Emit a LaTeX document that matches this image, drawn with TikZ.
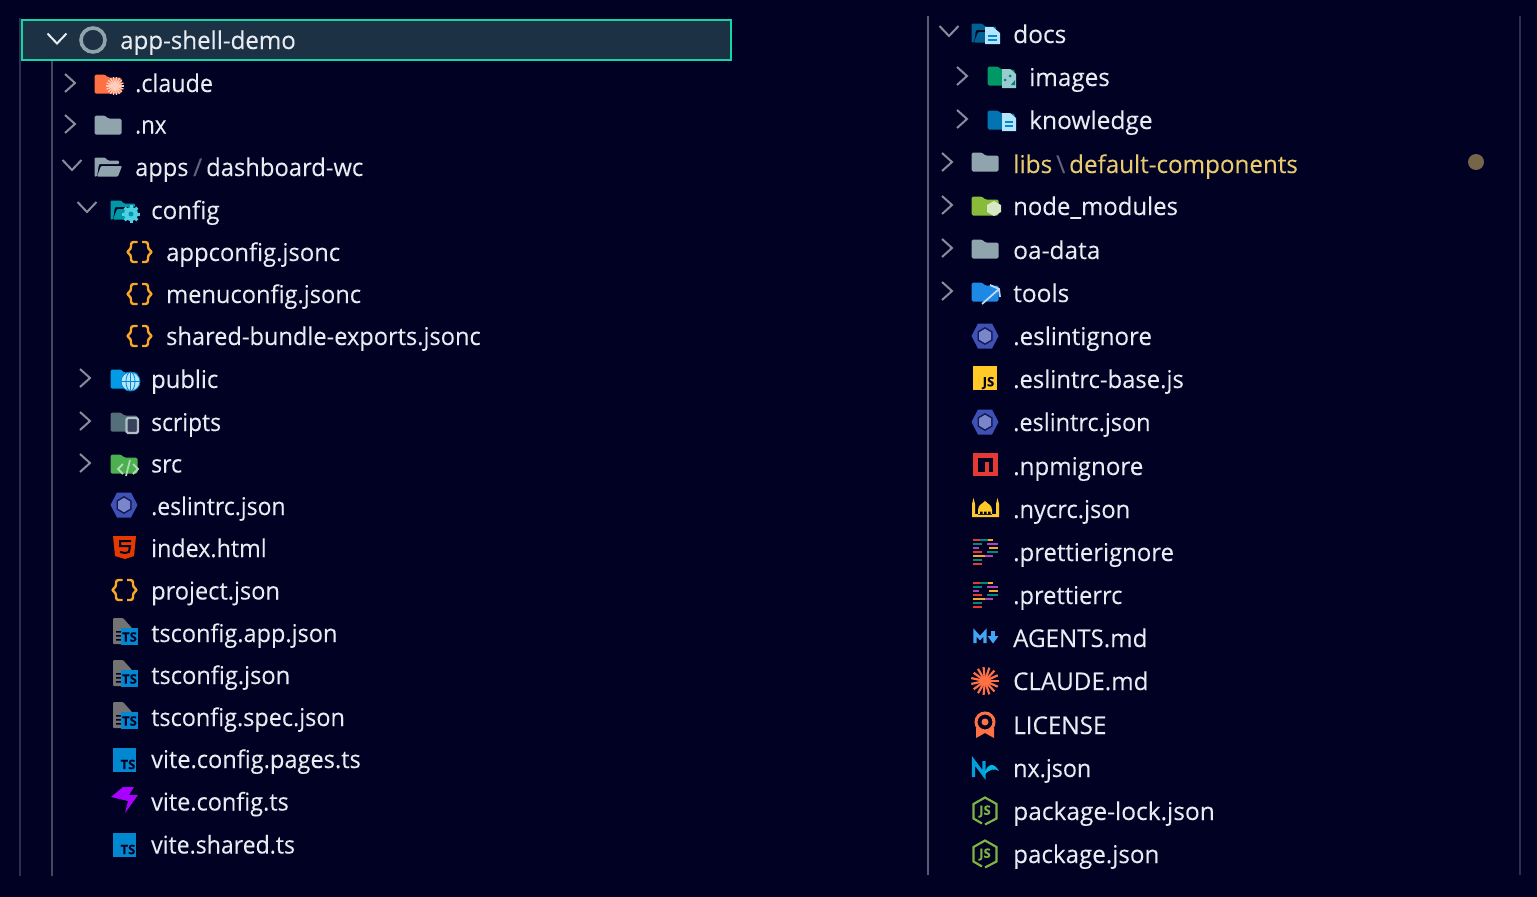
\documentclass[tikz,border=0pt]{standalone}
\usepackage{fontspec}
\setmainfont{Open Sans}[FakeBold=0.12]
\usetikzlibrary{positioning}
\definecolor{panelbg}{HTML}{010124}
\definecolor{rowbg}{HTML}{1C3244}
\definecolor{rowedge}{HTML}{12D6A4}
\definecolor{labeltext}{HTML}{E8ECF2}
\definecolor{gitlabel}{HTML}{E8CB6E}
\definecolor{chevcol}{HTML}{8A8A9C}
\definecolor{foldergrey}{HTML}{90A4AE}
\definecolor{tsblue}{HTML}{0288D1}
\definecolor{jsonorange}{HTML}{F9A825}
\definecolor{eslintblue}{HTML}{3F51B5}
\definecolor{eslintlight}{HTML}{7986CB}
\definecolor{nodegreen}{HTML}{7CB342}
\definecolor{claudered}{HTML}{FF7043}
\definecolor{paperlight}{HTML}{B3E5FC}
\definecolor{mdblue}{HTML}{42A5F5}
\definecolor{jsyellow}{HTML}{FFCA28}
\definecolor{npmred}{HTML}{E53935}
\definecolor{vitepurple}{HTML}{AA00FF}
\definecolor{publicblue}{HTML}{039BE5}
\definecolor{srcgreen}{HTML}{4CAF50}
\definecolor{toolsblue}{HTML}{1E88E5}
\definecolor{configteal}{HTML}{0097A7}
\definecolor{gearcyan}{HTML}{4DD0E1}
\definecolor{scriptsgrey}{HTML}{546E7A}
\tikzset{
  entry/.style={anchor=base west,inner sep=0pt,text=labeltext,font=\fontsize{24.5}{29}\selectfont},
  gitentry/.style={entry,text=gitlabel},
  squeeze/.style={xscale=#1,transform shape},
  sepmark/.style={anchor=base west,inner sep=0pt,text=chevcol!70!panelbg,font=\fontsize{24.5}{29}\selectfont},
  guide/.style={line width=1.4pt,draw=#1},
  pics/chevr/.style={code={\draw[chevcol,line width=2pt] (-5,-9) -- (5,0) -- (-5,9);}},
  pics/chevd/.style={code={\draw[#1,line width=2pt] (-9.5,-5) -- (0,5) -- (9.5,-5);}},
  pics/folder/.style={code={
    \fill[#1,rounded corners=1.5pt] (-13.5,9.5) -- (-13.5,-9.5) -- (-3,-9.5) -- (0,-6.5) -- (13.5,-6.5) -- (13.5,9.5) -- cycle;}},
  pics/openfolder/.style={code={
    \fill[#1,rounded corners=1pt] (-13.5,9.5) -- (-13.5,-9.5) -- (-3,-9.5) -- (0,-6.5) -- (11,-6.5) -- (11,-3) -- (-9,-3) -- (-11,9.5) -- cycle;
    \fill[#1,rounded corners=1pt] (-7,-1) -- (14,-1) -- (10,9.5) -- (-11,9.5) -- cycle;}},
  pics/braces/.style={code={
    \draw[jsonorange,line width=2.4pt,rounded corners=2.5pt] (-1.5,-10) -- (-8,-10) -- (-8,-3) -- (-12.5,0) -- (-8,3) -- (-8,10) -- (-1.5,10);
    \draw[jsonorange,line width=2.4pt,rounded corners=2.5pt] (3,-10) -- (9,-10) -- (9,-3) -- (13.5,0) -- (9,3) -- (9,10) -- (3,10);}},
  pics/eslint/.style={code={
    \fill[eslintblue] (-13.5,0) -- (-7,-12.5) -- (7,-12.5) -- (13.5,0) -- (7,12.5) -- (-7,12.5) -- cycle;
    \fill[panelbg!70!eslintblue] (0,-9) -- (7.5,-4.5) -- (7.5,4.5) -- (0,9) -- (-7.5,4.5) -- (-7.5,-4.5) -- cycle;
    \fill[eslintlight] (0,-7.2) -- (6,-3.6) -- (6,3.6) -- (0,7.2) -- (-6,3.6) -- (-6,-3.6) -- cycle;}},
  pics/tsfile/.style={code={
    \fill[tsblue] (-11.5,-12) rectangle (11.5,11.5);
    \node[text=panelbg,inner sep=0pt,font=\bfseries\fontsize{13}{13}\selectfont] (#1) at (3.5,4.5) {TS};}},
  pics/tsconfig/.style={code={
    \fill[black!55!white,rounded corners=1pt] (-12,10) -- (-12,-16) -- (-2,-16) -- (7,-6) -- (7,10) -- cycle;
    \fill[panelbg] (-9,-3) rectangle (-4,-1.5) (-9,1) rectangle (-4,2.5) (-9,5) rectangle (-4,6.5);
    \fill[tsblue] (-4,-6) rectangle (13,11);
    \node[text=panelbg,inner sep=0pt,font=\bfseries\fontsize{13}{13}\selectfont] (#1) at (4.5,3) {TS};}},
  pics/nodejs/.style={code={
    \draw[nodegreen,line width=2.2pt] (-3,12.5) -- (-11.5,7.5) -- (-11.5,-7) -- (0,-13.5) -- (11.5,-7) -- (11.5,7.5) -- (0,13.5);
    \node[text=nodegreen,inner sep=0pt,font=\bfseries\fontsize{13}{13}\selectfont] (#1) at (0,0.5) {JS};}},
  pics/prettier/.style={code={
    \foreach \xa/\xb/\ypos/\barcol in {-12/-5/-12/E53935,-5/3/-12/00897B,3/8/-12/F9A825,-12/-3.5/-8/00897B,2/13/-8/AB47BC,
      -12/-6/-4/AB47BC,4/13/-4/F9A825,-12/-3.5/0/E53935,2/13/0/00897B,-12/0/4/F9A825,0/8/4/AB47BC,-12/-3.5/8/00897B,-12/-3.5/12/E53935}
      {\definecolor{barcol}{HTML}{\barcol}\draw[barcol,line width=2pt] (\xa,\ypos) -- (\xb,\ypos);}}},
}
\begin{document}
\begin{tikzpicture}[x=1pt,y=-1pt]
  \fill[panelbg] (0,0) rectangle (1537,897);
  \useasboundingbox (0,0) rectangle (1537,897);

  % guides
  \draw[guide=white!18!panelbg] (20,18) -- (20,876);
  \draw[guide=white!27!panelbg] (52,60) -- (52,876);
  \draw[guide=white!35!panelbg] (928,16) -- (928,875);
  \draw[guide=white!18!panelbg] (1520,16) -- (1520,875);
  \node[draw=rowedge,fill=rowbg,line width=2pt,minimum width=709pt,minimum height=40.5pt,inner sep=0pt,anchor=north west] (rootrow) at (20.5,18.5) {};

  % left column
  \pic at (57,38.5) {chevd=labeltext};
  \draw[foldergrey,line width=3.6pt] (93,40) circle (12);
  \node[entry,squeeze=.983] (root) at (120,49) {app-shell-demo};

  \pic at (70,83) {chevr};
  \pic at (108,84) {folder=claudered};
  \foreach \ang in {0,20,...,340}
    \draw[white!65!claudered,line width=1.3pt] (115,86) -- ++(\ang:9);
  \node[entry,squeeze=.951] (claude) at (135,92) {.claude};

  \pic at (70,124) {chevr};
  \pic at (108,125) {folder=foldergrey};
  \node[entry,squeeze=.91] (nx) at (135,133.5) {.nx};

  \pic at (72,165) {chevd=chevcol};
  \pic at (108,167) {openfolder=foldergrey};
  \node[entry,squeeze=.964] (apps) at (135,176) {apps};
  \node[sepmark] (appsep) at (193,176) {/};
  \node[entry,squeeze=.97] (dashboard) at (206,176) {dashboard-wc};

  \pic at (87,207) {chevd=chevcol};
  \pic at (124,210) {openfolder=configteal};
  \foreach \ang in {0,45,...,315}
    \draw[gearcyan,line width=3pt] (131,214) -- ++(\ang:9);
  \fill[gearcyan] (131,214) circle (7);
  \fill[configteal] (131,214) circle (2.5);
  \node[entry,squeeze=.985] (config) at (151,219) {config};

  \pic at (139,252) {braces};
  \node[entry,squeeze=.972] (appconfig) at (166,261) {appconfig.jsonc};
  \pic at (139,294) {braces};
  \node[entry,squeeze=.965] (menuconfig) at (166,303) {menuconfig.jsonc};
  \pic at (139,336) {braces};
  \node[entry,squeeze=.963] (sharedbundle) at (166,345) {shared-bundle-exports.jsonc};

  \pic at (85,378) {chevr};
  \pic at (124,379) {folder=publicblue};
  \fill[paperlight] (130.5,381.5) circle (9.5);
  \draw[tsblue,line width=.8pt] (130.5,381.5) circle (9.5) (121,381.5) -- (140,381.5) (130.5,372) -- (130.5,391) (130.5,381.5) ellipse (4.5 and 9.5);
  \node[entry,squeeze=.97] (public) at (151,388) {public};

  \pic at (85,421) {chevr};
  \pic at (124,422) {folder=scriptsgrey};
  \draw[foldergrey!70!white,fill=panelbg!60!foldergrey,line width=2.4pt,rounded corners=1.5pt] (126.5,418) rectangle (138,433);
  \node[entry,squeeze=.933] (scripts) at (151,431) {scripts};

  \pic at (85,463) {chevr};
  \pic at (124,464) {folder=srcgreen};
  \draw[white!55!srcgreen,line width=1.8pt] (123,464) -- (118,469) -- (123,474) (133,464) -- (138,469) -- (133,474) (130,460) -- (126,476);
  \node[entry,squeeze=.94] (src) at (151,472.5) {src};

  \pic at (124,505) {eslint};
  \node[entry,squeeze=.937] (eslintleft) at (151,515) {.eslintrc.json};

  \fill[orange!50!red!90!black] (113,536) -- (136,536) -- (134,556) -- (125,559) -- (115,556) -- cycle;
  \draw[panelbg,line width=2pt] (131,541) -- (120,541) -- (120,546) -- (130,546) -- (129,552) -- (125,553) -- (120,552);
  \node[entry,squeeze=.95] (indexhtml) at (151,557) {index.html};

  \pic at (124,590) {braces};
  \node[entry,squeeze=.962] (projectjson) at (151,599.5) {project.json};

  \pic at (125,634) {tsconfig=tsa};
  \node[entry,squeeze=.959] (tsconfigapp) at (151,642) {tsconfig.app.json};
  \pic at (125,676) {tsconfig=tsb};
  \node[entry,squeeze=.965] (tsconfigjson) at (151,684) {tsconfig.json};
  \pic at (125,718) {tsconfig=tsc};
  \node[entry,squeeze=.956] (tsconfigspec) at (151,726) {tsconfig.spec.json};
  \pic at (124.5,760) {tsfile=tsd};
  \node[entry,squeeze=.963] (vitepages) at (151,768) {vite.config.pages.ts};
  \fill[vitepurple] (123,787) -- (134,787) -- (129,795) -- (138,795) -- (125,813) -- (128,801) -- (111,797) -- cycle;
  \node[entry,squeeze=.958] (viteconfig) at (151,810.5) {vite.config.ts};
  \pic at (124.5,845) {tsfile=tse};
  \node[entry,squeeze=.941] (viteshared) at (151,853.5) {vite.shared.ts};

  % right column
  \pic at (949,31) {chevd=chevcol};
  \pic at (985,33) {openfolder=tsblue!70!black};
  \fill[paperlight] (985,27) -- (993,27) -- (1000,33) -- (1000,44) -- (985,44) -- cycle;
  \draw[tsblue,line width=1.2pt] (988,36) -- (997,36) (988,40) -- (997,40);
  \node[entry] (docs) at (1013,43) {docs};

  \pic at (962,76) {chevr};
  \pic at (1001,76) {folder=teal!80!green};
  \fill[teal!40!white] (1002,69) -- (1010,69) -- (1016,74) -- (1016,88) -- (1002,88) -- cycle;
  \fill[teal] (1005,80) circle (1.5) (1010,76) circle (1.5) (1011,85) -- (1015,85) -- (1015,80) -- cycle;
  \node[entry,squeeze=.99] (images) at (1029,86) {images};

  \pic at (962,119) {chevr};
  \pic at (1001,120) {folder=tsblue!85!black};
  \fill[paperlight] (1002,113) -- (1010,113) -- (1016,118) -- (1016,131) -- (1002,131) -- cycle;
  \draw[tsblue,line width=1.2pt] (1005,122) -- (1013,122) (1005,126) -- (1013,126);
  \node[entry] (knowledge) at (1029,129) {knowledge};

  \pic at (947,162) {chevr};
  \pic at (985,162) {folder=foldergrey};
  \node[gitentry] (libs) at (1013,173) {libs};
  \node[sepmark] (libsep) at (1056,173) {\textbackslash};
  \node[gitentry,squeeze=.987] (defaultcomp) at (1069,173) {default-components};
  \fill[gitlabel!50!panelbg] (1476,162) circle (8);

  \pic at (947,205) {chevr};
  \pic at (985,206) {folder=nodegreen!90!yellow};
  \fill[white!70!nodegreen] (994,201) -- (1001,205) -- (1001,212) -- (994,216) -- (987,212) -- (987,205) -- cycle;
  \node[entry,squeeze=.976] (nodemodules) at (1013,215) {node\_modules};

  \pic at (947,248) {chevr};
  \pic at (985,249) {folder=foldergrey};
  \node[entry] (oadata) at (1013,259) {oa-data};

  \pic at (947,291) {chevr};
  \pic at (985,292) {folder=toolsblue};
  \draw[white!70!toolsblue,line width=1.8pt] (982,304) -- (999,289) (990,285) -- (999,289) -- (1000,297);
  \node[entry] (tools) at (1013,302) {tools};

  \pic at (985,336) {eslint};
  \node[entry,squeeze=.986] (eslintignore) at (1013,345) {.eslintignore};

  \fill[jsyellow] (973,366) rectangle (997,390);
  \node[inner sep=0pt,text=panelbg,font=\bfseries\fontsize{13}{13}\selectfont] (jsmark) at (988.5,383) {JS};
  \node[entry,squeeze=.972] (eslintbase) at (1013,388) {.eslintrc-base.js};

  \pic at (985,422) {eslint};
  \node[entry,squeeze=.958] (eslintright) at (1013,431) {.eslintrc.json};

  \fill[npmred] (973,453) rectangle (998,476);
  \fill[panelbg] (978,458) rectangle (993,472);
  \fill[npmred] (985,462) rectangle (988.5,476);
  \node[entry,squeeze=.985] (npmignore) at (1013,475) {.npmignore};

  \fill[jsyellow] (972,517) rectangle (999,514) (972,517) -- (972,504) -- (973.5,498) -- (975,504) -- (975,517) -- cycle
    (996,517) -- (996,504) -- (997.5,498) -- (999,504) -- (999,517) -- cycle
    (978,510) .. controls (978,505) and (982,504) .. (985,501) .. controls (988,504) and (992,505) .. (992,510) -- cycle
    (978,510) rectangle (992,515);
  \fill[panelbg] (980,511.5) rectangle (982.5,514) (984,511.5) rectangle (986.5,514) (988,511.5) rectangle (990.5,514);
  \node[entry,squeeze=.967] (nycrc) at (1013,518) {.nycrc.json};

  \pic at (985,552) {prettier};
  \node[entry,squeeze=.976] (prettierignore) at (1013,561) {.prettierignore};
  \pic at (985,595) {prettier};
  \node[entry,squeeze=.965] (prettierrc) at (1013,604) {.prettierrc};

  \draw[mdblue,line width=3.2pt] (975,643) -- (975,632.5) -- (980,638) -- (985,632.5) -- (985,643);
  \draw[mdblue,line width=3.2pt] (993,631) -- (993,638);
  \fill[mdblue] (987.5,636) -- (998.5,636) -- (993,643.5) -- cycle;
  \node[entry,squeeze=.985] (agents) at (1013,647) {AGENTS.md};

  \foreach \ang in {0,24,...,336}
    \draw[claudered,line width=2.2pt] (985,681) -- ++(\ang:14);
  \node[entry,squeeze=.985] (claudemd) at (1013,690) {CLAUDE.md};

  \fill[claudered] (976,728) -- (976,738) -- (985,733) -- (994,738) -- (994,728) -- cycle;
  \draw[claudered,fill=panelbg,line width=3pt] (985,722) circle (9);
  \fill[claudered] (985,722) circle (3.5);
  \node[entry,squeeze=.99] (license) at (1013,734) {LICENSE};

  \draw[tsblue!80!cyan,line width=3.4pt] (973.5,777) -- (973.5,761) -- (984,775) -- (984,761);
  \fill[tsblue!60!cyan] (984,775) .. controls (987,763) and (994,762) .. (999,771) .. controls (994,768) and (990,769) .. (984,775) -- cycle;
  \node[entry,squeeze=.95] (nxjson) at (1013,777) {nx.json};

  \pic at (985,811) {nodejs=nodea};
  \node[entry] (packagelock) at (1013,820) {package-lock.json};
  \pic at (985,854) {nodejs=nodeb};
  \node[entry,squeeze=.986] (packagejson) at (1013,863) {package.json};
\end{tikzpicture}
\end{document}
